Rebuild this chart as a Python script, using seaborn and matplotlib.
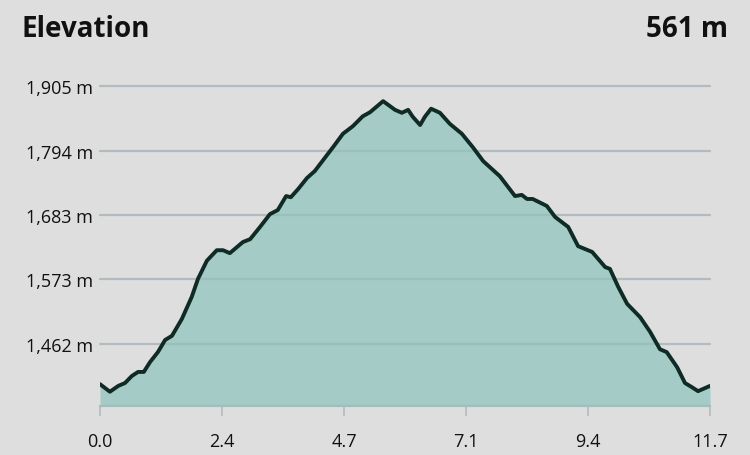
import matplotlib
matplotlib.use("Agg")
import matplotlib.pyplot as plt
import pandas as pd
import seaborn as sns

# profile (km, m)
distance = [0.00, 0.19, 0.35, 0.48, 0.61, 0.73, 0.84, 0.96, 1.11, 1.25,
            1.38, 1.57, 1.76, 1.88, 2.05, 2.24, 2.36, 2.49, 2.74, 2.88,
            3.07, 3.26, 3.41, 3.57, 3.66, 3.80, 3.97, 4.12, 4.41, 4.47,
            4.66, 4.85, 5.04, 5.18, 5.43, 5.66, 5.79, 5.91, 6.00, 6.14,
            6.23, 6.35, 6.52, 6.71, 6.94, 7.15, 7.35, 7.67, 7.96, 8.09,
            8.19, 8.30, 8.57, 8.73, 8.98, 9.17, 9.44, 9.69, 9.78, 9.94,
            10.11, 10.36, 10.55, 10.74, 10.87, 11.07, 11.22, 11.35, 11.47, 11.70]
elevation = [1393, 1380, 1390, 1395, 1407, 1414, 1414, 1431, 1448, 1469,
             1476, 1505, 1543, 1574, 1605, 1623, 1623, 1618, 1637, 1642,
             1663, 1685, 1692, 1716, 1714, 1728, 1747, 1759, 1793, 1800,
             1823, 1836, 1853, 1860, 1879, 1864, 1859, 1864, 1852, 1838,
             1852, 1866, 1859, 1840, 1823, 1800, 1776, 1750, 1716, 1718,
             1711, 1711, 1699, 1680, 1663, 1630, 1620, 1594, 1591, 1560,
             1531, 1508, 1483, 1453, 1448, 1422, 1395, 1388, 1381, 1390]

x_ticks = [0.0, 2.34, 4.68, 7.02, 9.36, 11.7]
x_labels = ["0.0", "2.4", "4.7", "7.1", "9.4", "11.7"]
y_ticks = [1462, 1573, 1683, 1794, 1905]
y_labels = ["1,462 m", "1,573 m", "1,683 m", "1,794 m", "1,905 m"]
y_bottom = 1355.5

title = "Elevation"
gain = "561 m"

bg = "#dedede"
grid = "#b3bbc1"
fill = "#8ec3bd"
line = "#0e2b25"

sns.set_theme(style="white")
plt.rcParams["font.family"] = ["Open Sans", "DejaVu Sans"]

data = pd.DataFrame({"distance": distance, "elevation": elevation})

fig = plt.figure(figsize=(7.5, 4.56), dpi=100, facecolor=bg)
ax = fig.add_axes([100 / 750, 1 - 407 / 456, 610 / 750, 320 / 456])
ax.set_facecolor(bg)

for t in y_ticks:
    ax.axhline(t, color=grid, lw=1.6, zorder=1, clip_on=False)

# translucent fill so the grid shows through a little
ax.fill_between(data["distance"], data["elevation"], y_bottom,
                color=fill, alpha=0.7, lw=0, zorder=2)
sns.lineplot(data=data, x="distance", y="elevation", ax=ax,
             color=line, lw=2.8, zorder=3, solid_joinstyle="round",
             solid_capstyle="round")

ax.set_xlim(0, 11.7)
ax.set_ylim(y_bottom, 1905)
ax.set_xticks(x_ticks)
ax.set_xticklabels(x_labels)
ax.set_yticks(y_ticks)
ax.set_yticklabels(y_labels)
ax.set_xlabel("")
ax.set_ylabel("")

for s in ["top", "right", "left"]:
    ax.spines[s].set_visible(False)
ax.spines["bottom"].set_color(grid)
ax.spines["bottom"].set_linewidth(1.6)
ax.spines["bottom"].set_zorder(1)

ax.tick_params(axis="x", length=7.5, width=1.2, color=grid, pad=11,
               labelsize=13, labelcolor="#111111", bottom=True)
ax.tick_params(axis="y", length=0, pad=5, labelsize=13, labelcolor="#111111")

fig.text(21 / 750, 1 - 37 / 456, title, fontsize=20, fontweight="bold",
         color="#111111", va="baseline", ha="left")
fig.text(728 / 750, 1 - 37 / 456, gain, fontsize=20, fontweight="bold",
         color="#111111", va="baseline", ha="right")

fig.savefig("out.png", dpi=100, facecolor=bg)
